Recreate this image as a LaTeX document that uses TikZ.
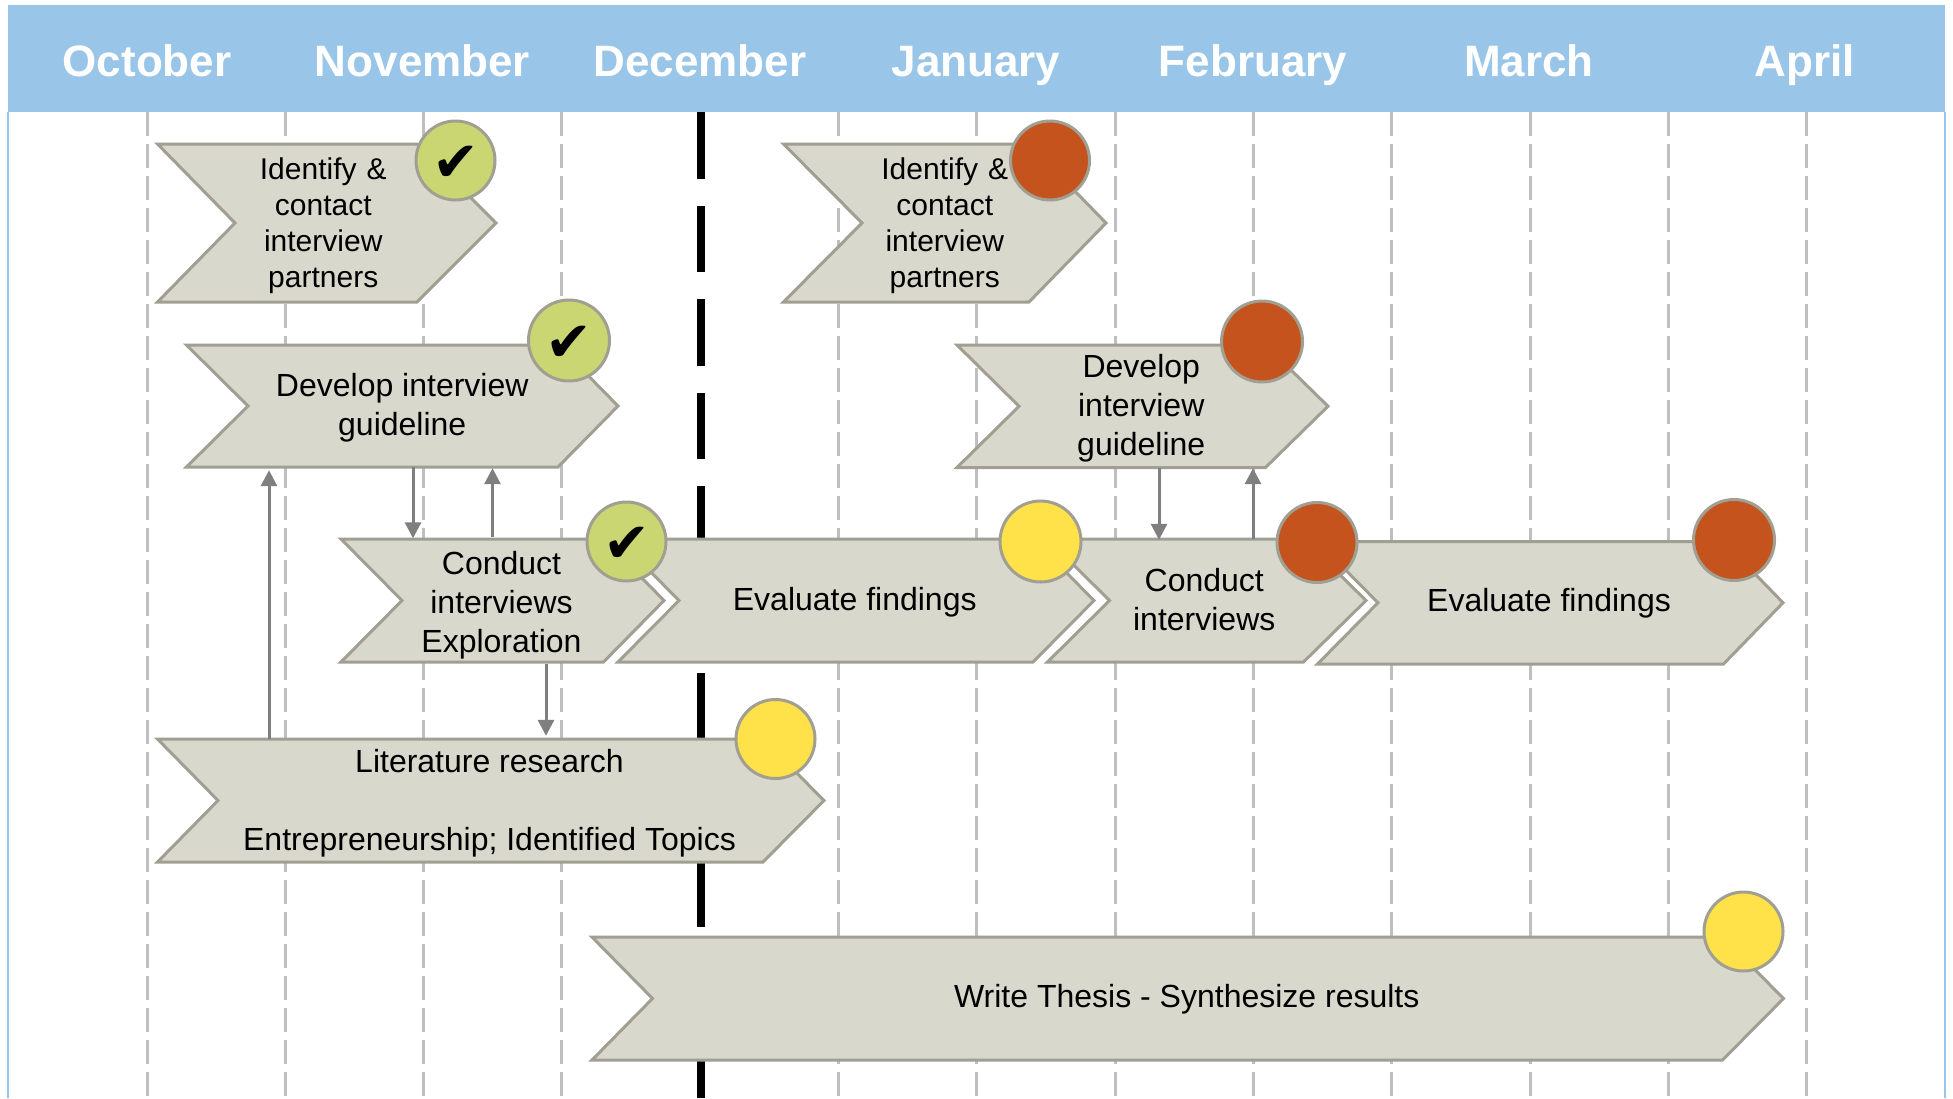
\documentclass[tikz,border=0pt]{standalone}
\usepackage{fontspec}
\setmainfont{Liberation Sans}
\newfontfamily\chkfont{DejaVu Sans}
\usetikzlibrary{arrows.meta}
\definecolor{headblue}{HTML}{99C5E9}
\definecolor{gridgray}{HTML}{BFBFBF}
\definecolor{chevfill}{HTML}{D9D8CC}
\definecolor{chevline}{HTML}{A09F92}
\definecolor{okgreen}{HTML}{C9D672}
\definecolor{warnyellow}{HTML}{FFE14A}
\definecolor{lateorange}{HTML}{C4531D}
\definecolor{connline}{HTML}{7F7F7F}
\def\chevdown{5pt}
\def\chevleft{0pt}
\newcommand\chkmark{\vbox{\kern6pt\hbox{✔}}}
\tikzset{
  tdown/.store in=\chevdown,
  tleft/.store in=\chevleft,
  month/.style={font=\fontsize{44}{50}\selectfont\bfseries,text=white,inner sep=0pt,anchor=base},
  gridline/.style={draw=gridgray,line width=3pt,dash pattern=on 24pt off 8pt},
  nowline/.style={draw=black,line width=8pt,dash pattern=on 66.5pt off 27pt},
  chevshape/.style={fill=chevfill,draw=chevline,line width=3pt,line join=miter},
  chevtext/.style={inner sep=0pt,text=black},
  stat/.style={circle,draw=chevline,line width=3pt,inner sep=0pt,minimum size=79pt},
  conn/.style={draw=connline,line width=3pt,-{Triangle[length=16pt,width=16pt]}},
  chk/.style={font=\chkfont\fontsize{56}{56}\selectfont,text=black},
  small/.style={font=\fontsize{30}{36}\selectfont},
  large/.style={font=\fontsize{32}{39}\selectfont},
}
% name, left, notch, right-of-body, tip, top, bottom, style, text
\newcommand\chev[9]{%
  \pgfmathsetmacro\chevMx{(#2+#5)/2}%
  \pgfmathsetmacro\chevMy{(#6+#7)/2}%
  \pgfmathsetmacro\chevW{#5-#2}%
  \pgfmathsetmacro\chevH{#7-#6}%
  \draw[chevshape] (#2,#6) -- (#4,#6) -- (#5,\chevMy) -- (#4,#7) -- (#2,#7) -- (#3,\chevMy) -- cycle;
  \node[chevtext,#8,minimum width=\chevW pt,minimum height=\chevH pt] (#1) at (\chevMx,\chevMy)
    {\vbox{\kern\chevdown\hbox{\begin{tabular}{@{}c@{}}#9\end{tabular}\kern\chevleft}}};
}
\begin{document}
\begin{tikzpicture}[x=1pt,y=-1pt]
\useasboundingbox (0,0) rectangle (1953,1098);
\fill[white] (0,0) rectangle (1953,1098);
% frame
\draw[headblue,line width=1.5pt] (8,112) -- (8,1098);
\draw[headblue,line width=1.5pt] (1945,112) -- (1945,1098);
% grid
\foreach \gx in {147,285,423,561.5,838,976,1115,1253,1391,1530,1668,1806}
  \draw[gridline] (\gx,112) -- (\gx,1098);
\draw[nowline] (700.5,112) -- (700.5,1098);
% header
\fill[headblue] (8,5) rectangle (1945,112);
\node[month] (oct) at (147,76) {October};
\node[month] (nov) at (422.5,76) {November};
\node[month] (dec) at (700,76) {December};
\node[month] (jan) at (976,76) {January};
\node[month] (feb) at (1253,76) {February};
\node[month] (mar) at (1529,76) {March};
\node[month] (apr) at (1805,76) {April};
% chevrons
\chev{ident}{157.5}{235}{417}{496}{144}{302}{small,tdown=7pt,tleft=7pt}{Identify\hspace{10pt}\&\\contact\\interview\\partners}
\chev{devel}{186.5}{248}{558}{618}{345}{467}{large}{Develop interview\\guideline}
\chev{condu}{341}{402}{603.5}{664}{539}{662}{large,tdown=10pt,tleft=2pt}{Conduct\\interviews\\Exploration}
\chev{evalu}{618}{679}{1033}{1094}{539}{662}{large,tleft=2.5pt}{Evaluate findings}
\chev{liter}{157.5}{218}{763}{824}{739}{862}{large,tdown=6pt,tleft=2.5pt}{Literature research\\ \\Entrepreneurship; Identified Topics}
\chev{write}{592}{652.5}{1722.5}{1783.5}{937}{1060}{large,tdown=2pt,tleft=2pt}{Write Thesis - Synthesize results}
\chev{identb}{783.5}{862}{1029}{1106}{144}{302}{small,tdown=7pt}{Identify\hspace{10pt}\&\\contact\\interview\\partners}
\chev{develb}{957}{1019}{1265.5}{1328}{345}{467.5}{large,tleft=2.5pt}{Develop\\interview\\guideline}
\chev{condub}{1047.5}{1109.5}{1303.5}{1366}{539}{662}{large,tdown=5pt,tleft=5pt}{Conduct\\interviews}
\chev{evalub}{1317.5}{1378}{1723.5}{1783}{541.5}{664}{large,tdown=2.5pt,tleft=2.5pt}{Evaluate findings}
% connectors
\draw[conn,shorten >=3pt] (269,0 |- liter.north) -- (269,0 |- devel.south);
\draw[conn,shorten >=-1.5pt] (413,0 |- devel.south) -- (413,0 |- condu.north);
\draw[conn,shorten >=1pt] (492.5,0 |- condu.north) -- (492.5,0 |- devel.south);
\draw[conn,shorten >=3pt] (546,0 |- condu.south) -- (546,0 |- liter.north);
\draw[conn,shorten >=-1pt] (1159,0 |- develb.south) -- (1159,0 |- condub.north);
\draw[conn,shorten >=0.5pt] (1253,0 |- condub.north) -- (1253,0 |- develb.south);
% status circles
\node[stat,fill=okgreen,chk] (sa) at (455.5,160.5) {\chkmark};
\node[stat,fill=okgreen,chk,minimum size=81pt] (sb) at (569,340.5) {\chkmark};
\node[stat,fill=okgreen,chk] (sc) at (626.5,541.5) {\chkmark};
\node[stat,fill=warnyellow,minimum size=81pt] (sd) at (1040.5,541.5) {};
\node[stat,fill=warnyellow] (se) at (775.5,739) {};
\node[stat,fill=warnyellow] (sf) at (1743.5,931.5) {};
\node[stat,fill=lateorange] (sg) at (1050,160.5) {};
\node[stat,fill=lateorange,minimum size=81pt] (sh) at (1262,341.5) {};
\node[stat,fill=lateorange,minimum size=80pt] (si) at (1317,542.5) {};
\node[stat,fill=lateorange,minimum size=81pt] (sj) at (1734,540) {};
\end{tikzpicture}
\end{document}
